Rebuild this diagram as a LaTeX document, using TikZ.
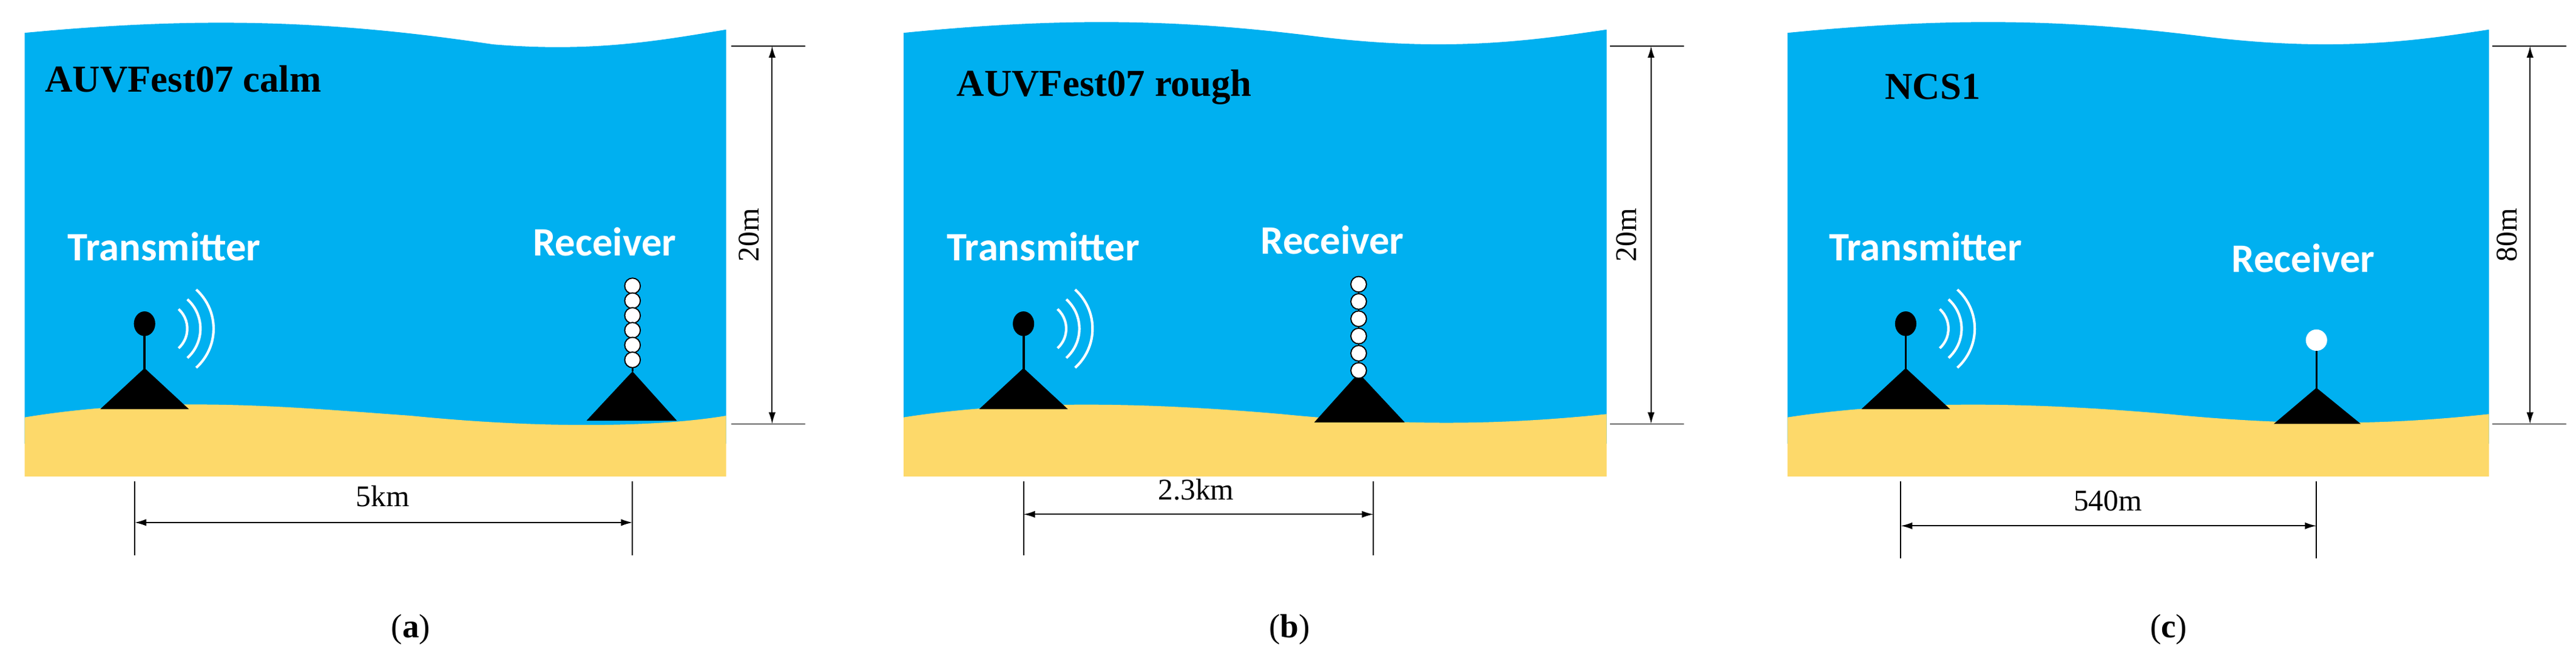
\documentclass[tikz,border=0pt]{standalone}
\usepackage{fontspec}
\setmainfont{Liberation Serif}
\newfontfamily\lblfont{Carlito}
\usetikzlibrary{arrows.meta}
\definecolor{water}{HTML}{00B0F0}
\definecolor{sand}{HTML}{FDD96A}
\tikzset{
  lbl/.style={text=white,font=\lblfont\bfseries\fontsize{35}{38}\selectfont},
  ttl/.style={font=\bfseries\fontsize{33}{36}\selectfont,anchor=west},
  dim/.style={line width=1pt},
  dimarrow/.style={line width=1pt,{Latex[length=10pt,width=6pt]}-{Latex[length=10pt,width=6pt]}},
  dimlbl/.style={font=\fontsize{26}{28}\selectfont},
  captext/.style={font=\fontsize{29}{31}\selectfont},
  wave/.style={white,line width=2.2pt},
  tri/.style={fill=black},
  bead/.style={circle,draw=black,line width=1pt,fill=white,minimum size=9.5*0.05cm,inner sep=0pt},
}
\begin{document}
\begin{tikzpicture}[x=0.05cm,y=-0.05cm]
\useasboundingbox (0,0) rectangle (1568,404);
\fill[white] (0,0) rectangle (1568,404);
% ---------- panel a ----------
\fill[water] (15,20) .. controls (120,10) and (200,12) .. (300,27) .. controls (360,32) and (400,25) .. (442,18) -- (442,270) -- (15,270) -- cycle;
\fill[sand] (15,254) .. controls (100,240) and (180,248) .. (250,253) .. controls (330,261) and (400,260) .. (442,253) -- (442,290) -- (15,290) -- cycle;
\node[ttl] (ta) at (25,48) {AUVFest07 calm};
\node[lbl] (txa) at (100,150) {Transmitter};
\node[lbl] (rxa) at (368,147) {Receiver};
\fill[tri] (88,224) -- (115,249) -- (61,249) -- cycle;
\draw[line width=2pt] (88,200) -- (88,226);
\fill (88,197) ellipse (6.5 and 7.5);
\foreach \r in {16,24,32} \draw[wave] (98,200) ++(-48:\r) arc (-48:48:\r);
\fill[tri] (385,226) -- (412,256) -- (357,256) -- cycle;
\draw[line width=1.5pt] (385,174) -- (385,226);
\foreach \i in {0,...,5} \node[bead] at (385,174+\i*9) {};
\coordinate (ha1) at (445,28); \coordinate (ha2) at (490,28);
\coordinate (hb1) at (445,258); \coordinate (hb2) at (490,258);
\draw[dim] (ha1) -- (ha2); \draw[dim] (hb1) -- (hb2);
\coordinate (va1) at (470,28); \coordinate (va2) at (470,258);
\draw[dimarrow] (va1) -- (va2);
\node[dimlbl,rotate=90] (la) at (456,143) {20m};
\coordinate (da1) at (82,293); \coordinate (da2) at (82,338);
\coordinate (db1) at (385,293); \coordinate (db2) at (385,338);
\draw[dim] (da1) -- (da2); \draw[dim] (db1) -- (db2);
\coordinate (ea1) at (82,318); \coordinate (ea2) at (385,318);
\draw[dimarrow] (ea1) -- (ea2);
\node[dimlbl] (ka) at (233,302) {5km};
\node[captext] (capa) at (250,383) {(\textbf{a})};
% ---------- panel b ----------
\fill[water] (550,20) .. controls (650,10) and (720,12) .. (800,22) .. controls (880,32) and (930,25) .. (978,18) -- (978,270) -- (550,270) -- cycle;
\fill[sand] (550,254) .. controls (620,243) and (700,245) .. (780,252) .. controls (860,260) and (920,258) .. (978,252) -- (978,290) -- (550,290) -- cycle;
\node[ttl] (tb) at (580,53) {AUVFest07 rough};
\node[lbl] (txb) at (635,150) {Transmitter};
\node[lbl] (rxb) at (811,146) {Receiver};
\fill[tri] (623,224) -- (650,249) -- (596,249) -- cycle;
\draw[line width=2pt] (623,200) -- (623,226);
\fill (623,197) ellipse (6.5 and 7.5);
\foreach \r in {16,24,32} \draw[wave] (633,200) ++(-48:\r) arc (-48:48:\r);
\fill[tri] (827,227) -- (855,257) -- (800,257) -- cycle;
\draw[line width=1.5pt] (827,173) -- (827,227);
\foreach \i in {0,...,5} \node[bead] at (827,173+\i*10.5) {};
\coordinate (hc1) at (980,28); \coordinate (hc2) at (1025,28);
\coordinate (hd1) at (980,258); \coordinate (hd2) at (1025,258);
\draw[dim] (hc1) -- (hc2); \draw[dim] (hd1) -- (hd2);
\coordinate (vb1) at (1005,28); \coordinate (vb2) at (1005,258);
\draw[dimarrow] (vb1) -- (vb2);
\node[dimlbl,rotate=90] (lb) at (990,143) {20m};
\coordinate (dc1) at (623,293); \coordinate (dc2) at (623,338);
\coordinate (dd1) at (836,293); \coordinate (dd2) at (836,338);
\draw[dim] (dc1) -- (dc2); \draw[dim] (dd1) -- (dd2);
\coordinate (eb1) at (623,313); \coordinate (eb2) at (836,313);
\draw[dimarrow] (eb1) -- (eb2);
\node[dimlbl] (kb) at (728,298) {2.3km};
\node[captext] (capb) at (785,383) {(\textbf{b})};
% ---------- panel c ----------
\fill[water] (1088,20) .. controls (1190,10) and (1260,12) .. (1340,22) .. controls (1420,32) and (1470,25) .. (1515,18) -- (1515,270) -- (1088,270) -- cycle;
\fill[sand] (1088,254) .. controls (1160,243) and (1240,245) .. (1320,252) .. controls (1400,260) and (1460,258) .. (1515,252) -- (1515,290) -- (1088,290) -- cycle;
\node[ttl] (tc) at (1145,53) {NCS1};
\node[lbl] (txc) at (1172,150) {Transmitter};
\node[lbl] (rxc) at (1402,157) {Receiver};
\fill[tri] (1160,224) -- (1187,249) -- (1133,249) -- cycle;
\draw[line width=2pt] (1160,200) -- (1160,226);
\fill (1160,197) ellipse (6.5 and 7.5);
\foreach \r in {16,24,32} \draw[wave] (1170,200) ++(-48:\r) arc (-48:48:\r);
\fill[tri] (1410,236) -- (1437,258) -- (1384,258) -- cycle;
\draw[line width=1.5pt] (1410,210) -- (1410,237);
\fill[white] (1410,207) circle (6.5);
\coordinate (he1) at (1517,28); \coordinate (he2) at (1562,28);
\coordinate (hf1) at (1517,258); \coordinate (hf2) at (1562,258);
\draw[dim] (he1) -- (he2); \draw[dim] (hf1) -- (hf2);
\coordinate (vc1) at (1540,28); \coordinate (vc2) at (1540,258);
\draw[dimarrow] (vc1) -- (vc2);
\node[dimlbl,rotate=90] (lc) at (1526,143) {80m};
\coordinate (de1) at (1157,293); \coordinate (de2) at (1157,340);
\coordinate (df1) at (1410,293); \coordinate (df2) at (1410,340);
\draw[dim] (de1) -- (de2); \draw[dim] (df1) -- (df2);
\coordinate (ec1) at (1157,320); \coordinate (ec2) at (1410,320);
\draw[dimarrow] (ec1) -- (ec2);
\node[dimlbl] (kc) at (1283,305) {540m};
\node[captext] (capc) at (1320,383) {(\textbf{c})};
\end{tikzpicture}
\end{document}
